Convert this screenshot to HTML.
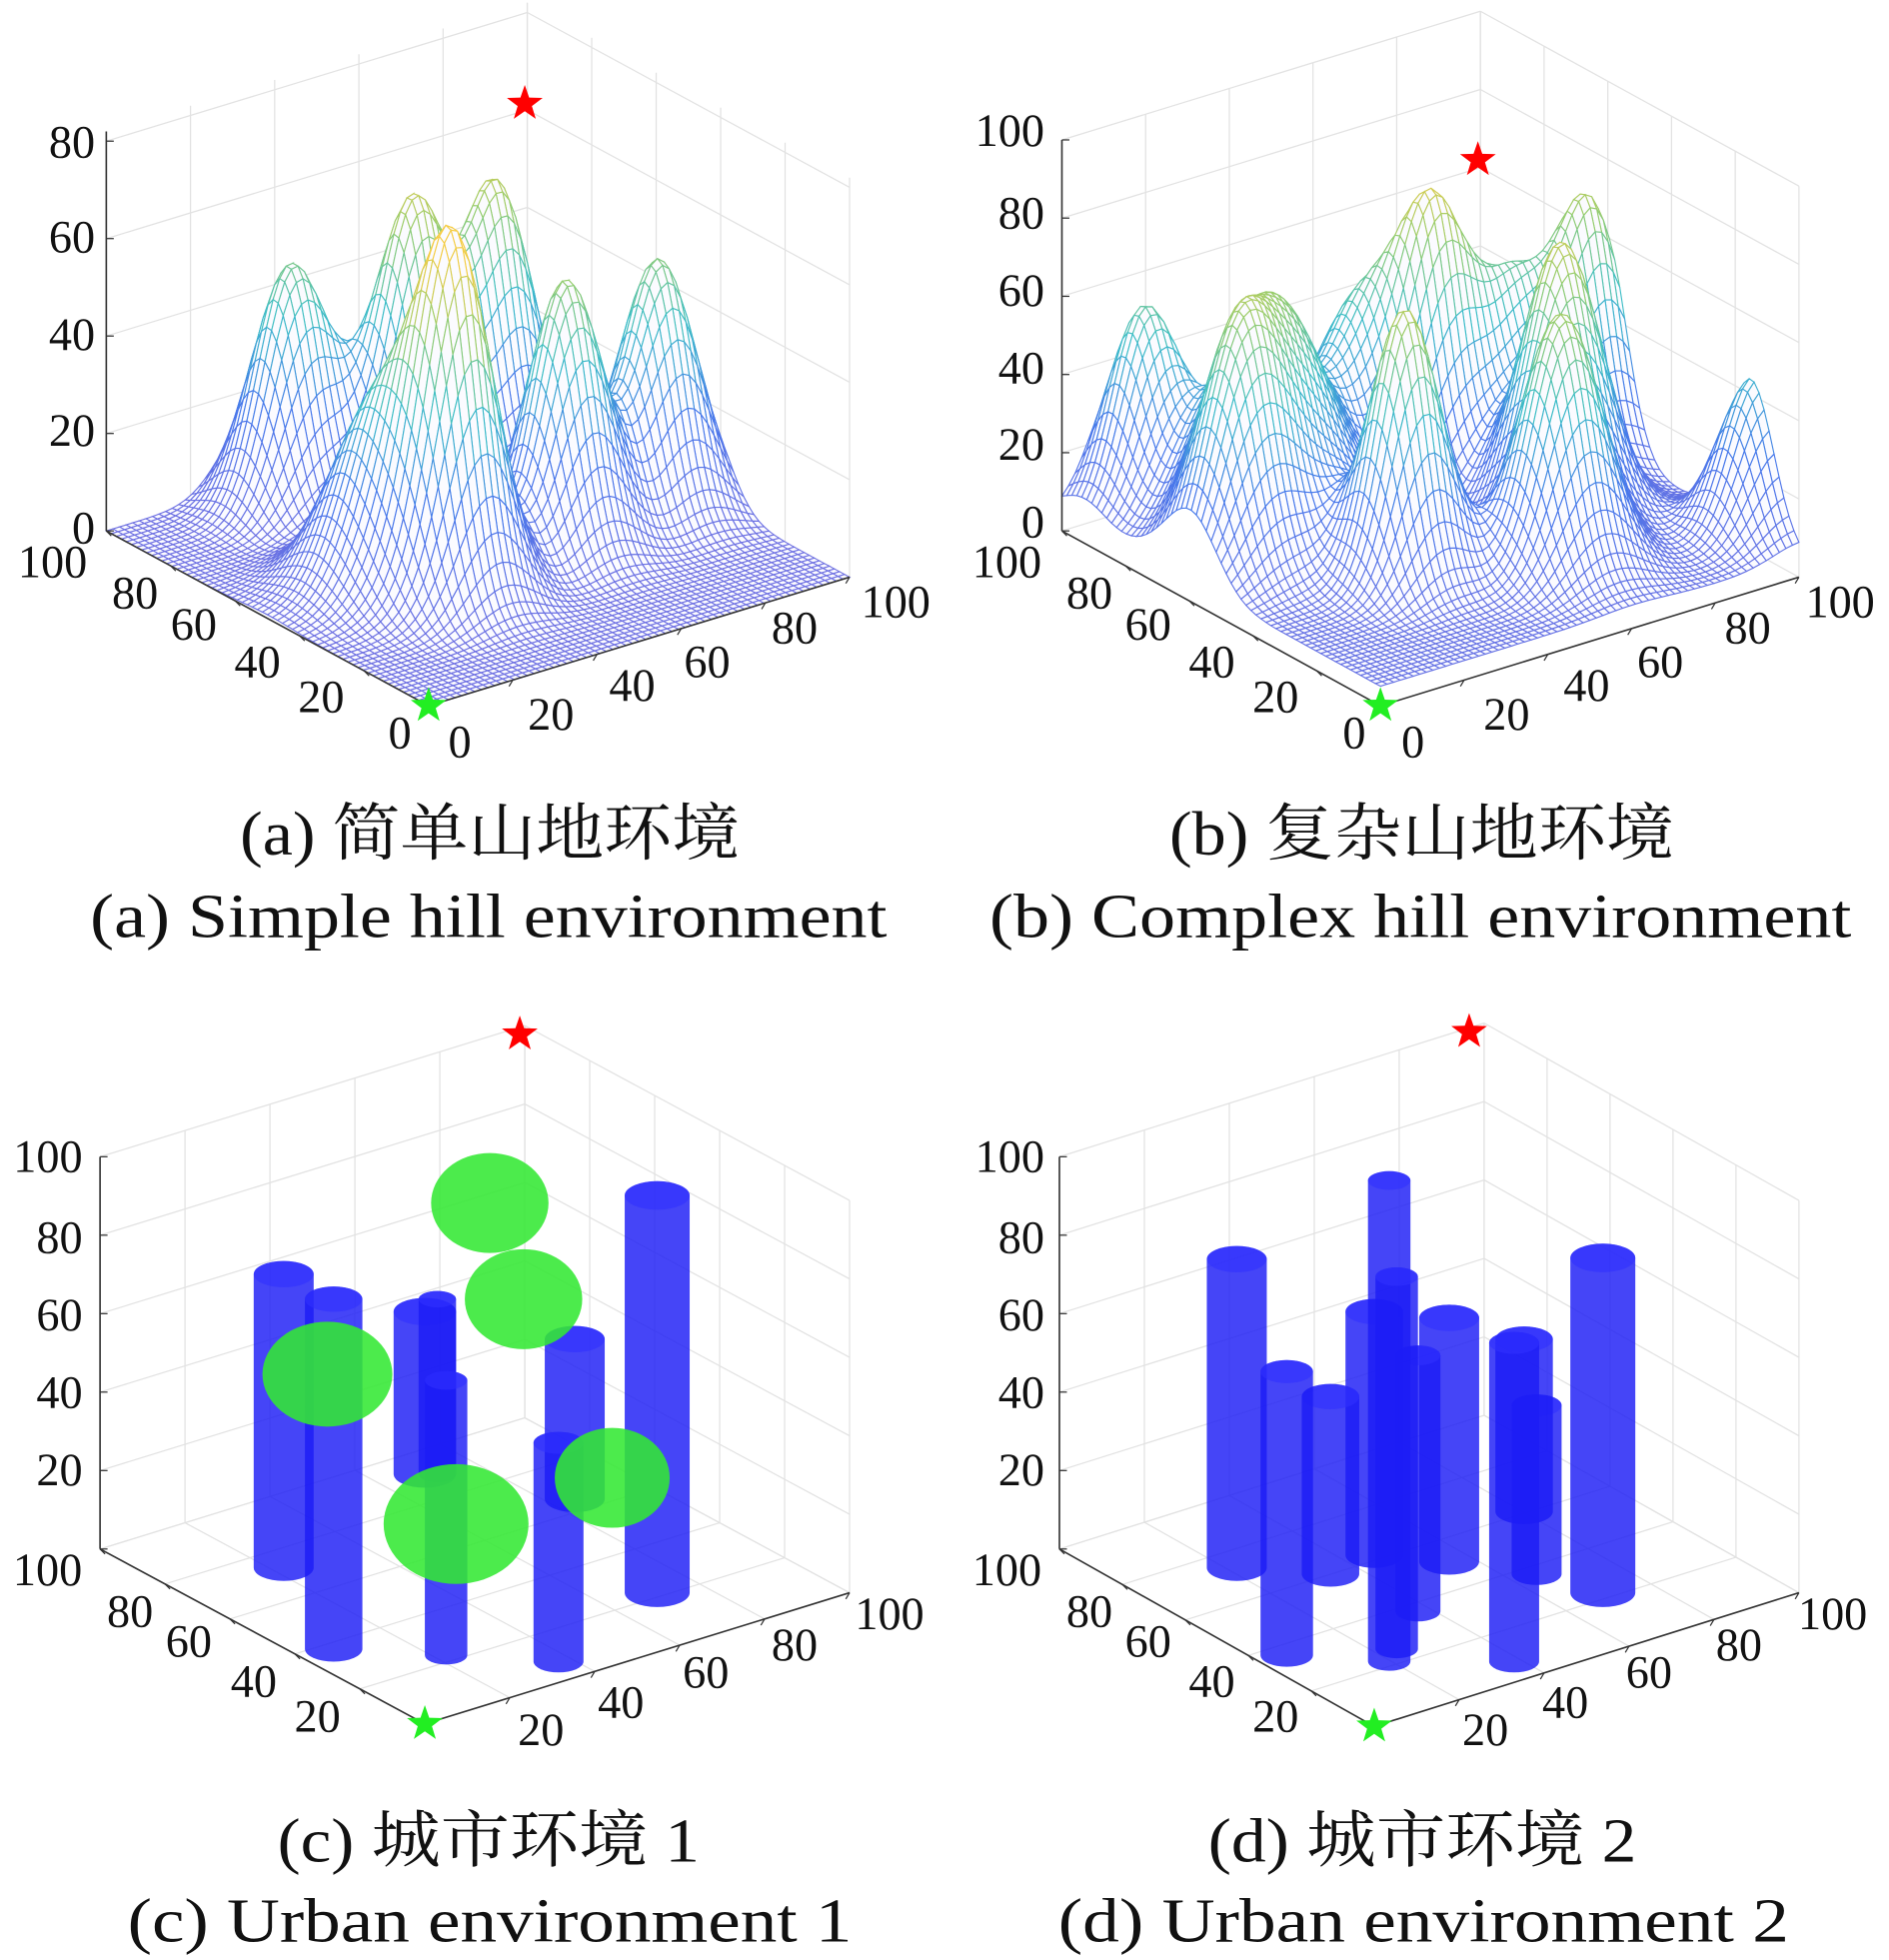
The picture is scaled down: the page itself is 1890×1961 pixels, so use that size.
<!DOCTYPE html>
<html><head><meta charset="utf-8">
<style>
html,body{margin:0;padding:0;background:#fff;}
svg{display:block;}
text{font-family:"Liberation Serif","Noto Serif CJK SC",serif;fill:#111;}
</style></head>
<body>
<svg id="s" width="1890" height="1961" viewBox="0 0 1512 1569" xmlns="http://www.w3.org/2000/svg">
<g id="g"></g>
<g font-size="37">
<g text-anchor="end">
<text x="76" y="126">80</text><text x="76" y="202">60</text><text x="76" y="280">40</text><text x="76" y="357">20</text><text x="76" y="435">0</text>
</g>
<g text-anchor="middle">
<text x="42" y="462">100</text><text x="108" y="487">80</text><text x="155" y="512">60</text><text x="206" y="542">40</text><text x="257" y="570">20</text><text x="320" y="599">0</text>
<text x="368" y="606">0</text><text x="441" y="584">20</text><text x="506" y="561">40</text><text x="566" y="542">60</text><text x="636" y="515">80</text><text x="717" y="494">100</text>
</g>
<g text-anchor="end">
<text x="836" y="117">100</text><text x="836" y="183">80</text><text x="836" y="245">60</text><text x="836" y="307">40</text><text x="836" y="368">20</text><text x="836" y="430">0</text>
</g>
<g text-anchor="middle">
<text x="806" y="462">100</text><text x="872" y="487">80</text><text x="919" y="512">60</text><text x="970" y="542">40</text><text x="1021" y="570">20</text><text x="1084" y="599">0</text>
<text x="1131" y="606">0</text><text x="1206" y="584">20</text><text x="1270" y="561">40</text><text x="1329" y="542">60</text><text x="1399" y="515">80</text><text x="1473" y="494">100</text>
</g>
<g text-anchor="end">
<text x="66" y="938">100</text><text x="66" y="1003">80</text><text x="66" y="1065">60</text><text x="66" y="1127">40</text><text x="66" y="1189">20</text>
</g>
<g text-anchor="middle">
<text x="38" y="1269">100</text><text x="104" y="1302">80</text><text x="151" y="1326">60</text><text x="203" y="1358">40</text><text x="254" y="1386">20</text>
<text x="433" y="1397">20</text><text x="497" y="1375">40</text><text x="565" y="1351">60</text><text x="636" y="1329">80</text><text x="712" y="1304">100</text>
</g>
<g text-anchor="end">
<text x="836" y="938">100</text><text x="836" y="1003">80</text><text x="836" y="1065">60</text><text x="836" y="1127">40</text><text x="836" y="1189">20</text>
</g>
<g text-anchor="middle">
<text x="806" y="1269">100</text><text x="872" y="1302">80</text><text x="919" y="1326">60</text><text x="970" y="1358">40</text><text x="1021" y="1386">20</text>
<text x="1189" y="1397">20</text><text x="1253" y="1375">40</text><text x="1320" y="1351">60</text><text x="1392" y="1329">80</text><text x="1467" y="1304">100</text>
</g>
</g>
<g font-size="50">
<text x="192" y="684" textLength="400" lengthAdjust="spacingAndGlyphs">(a) 简单山地环境</text>
<text x="72" y="750" textLength="638" lengthAdjust="spacingAndGlyphs">(a) Simple hill environment</text>
<text x="936" y="684" textLength="404" lengthAdjust="spacingAndGlyphs">(b) 复杂山地环境</text>
<text x="792" y="750" textLength="690" lengthAdjust="spacingAndGlyphs">(b) Complex hill environment</text>
<text x="222" y="1490" textLength="338" lengthAdjust="spacingAndGlyphs">(c) 城市环境 1</text>
<text x="102" y="1554" textLength="580" lengthAdjust="spacingAndGlyphs">(c) Urban environment 1</text>
<text x="967" y="1490" textLength="343" lengthAdjust="spacingAndGlyphs">(d) 城市环境 2</text>
<text x="847" y="1554" textLength="585" lengthAdjust="spacingAndGlyphs">(d) Urban environment 2</text>
</g>
</svg>
<script>
var NS="http://www.w3.org/2000/svg",G=document.getElementById("g");
function el(t,a){var e=document.createElementNS(NS,t);for(var k in a)e.setAttribute(k,a[k]);G.appendChild(e);return e;}
function mk(F,L,R,zpx,zmax){
 var u=[(R[0]-F[0])/100,(R[1]-F[1])/100],v=[(L[0]-F[0])/100,(L[1]-F[1])/100];
 return {F:F,L:L,R:R,zpx:zpx,zmax:zmax,
  p:function(x,y,z){return [F[0]+u[0]*x+v[0]*y,F[1]+u[1]*x+v[1]*y-z*zpx];},
  inv:function(sx,sy){var dx=sx-F[0],dy=sy-F[1],d=u[0]*v[1]-u[1]*v[0];return [(dx*v[1]-dy*v[0])/d,(u[0]*dy-u[1]*dx)/d];}};
}
function ln(a,b,c,w){el("line",{x1:a[0],y1:a[1],x2:b[0],y2:b[1],stroke:c,"stroke-width":w||1});}
function box(P,floor){
 var g="#e2e2e2";
 for(var z=0;z<=P.zmax+0.1;z+=20){ln(P.p(0,100,z),P.p(100,100,z),g);ln(P.p(100,100,z),P.p(100,0,z),g);}
 for(var t=0;t<=100;t+=20){
  ln(P.p(t,100,0),P.p(t,100,P.zmax),g);ln(P.p(100,t,0),P.p(100,t,P.zmax),g);
  if(floor){ln(P.p(t,0,0),P.p(t,100,0),g);ln(P.p(0,t,0),P.p(100,t,0),g);}
 }
}
function axes(P){
 var k="#333";
 ln(P.p(0,100,0),P.p(0,100,P.zmax),k,1.3);
 ln(P.p(0,100,0),P.p(0,0,0),k,1.3);ln(P.p(0,0,0),P.p(100,0,0),k,1.3);
 for(var t=0;t<=100;t+=20){var a=P.p(t,0,0);ln(a,[a[0]-3,a[1]+5],k);var b=P.p(0,t,0);ln(b,[b[0]+4,b[1]+4],k);}
 for(var z=0;z<=P.zmax+0.1;z+=20){var c=P.p(0,100,z);ln(c,[c[0]+6,c[1]],k);}
}
function star(c,col){var s="";for(var i=0;i<10;i++){var r=i%2?6:15,a=-Math.PI/2+i*Math.PI/5;s+=(c[0]+r*Math.cos(a)).toFixed(1)+","+(c[1]+r*Math.sin(a)).toFixed(1)+" ";}el("polygon",{points:s,fill:col});}
var stops=[[0,[110,112,226]],[0.3,[70,120,235]],[0.55,[60,190,200]],[0.78,[150,205,110]],[1,[245,205,70]]];
function cmap(t){t=Math.max(0,Math.min(1,t));for(var i=1;i<stops.length;i++)if(t<=stops[i][0]){var a=stops[i-1],b=stops[i],f=(t-a[0])/(b[0]-a[0]);return "rgb("+[0,1,2].map(function(j){return Math.round(a[1][j]+(b[1][j]-a[1][j])*f)}).join(",")+")";}return "rgb(245,205,70)";}
function surf(P,peaks,base,maxz){
 var N=64,h=100/N;
 function Z(x,y){var z=base;for(var i=0;i<peaks.length;i++){var q=peaks[i],dx=x-q[0],dy=y-q[1];z+=q[2]*Math.exp(-(dx*dx/(2*q[3]*q[3])+dy*dy/(2*q[4]*q[4])));}return z;}
 var grid=[];for(var i=0;i<=N;i++){grid[i]=[];for(var j=0;j<=N;j++)grid[i][j]=Z(i*h,j*h);}
 for(var s=2*N-2;s>=0;s--){for(var i=Math.min(N-1,s);i>=0&&s-i<N;i--){var j=s-i;
   var z1=grid[i][j],z2=grid[i+1][j],z3=grid[i+1][j+1],z4=grid[i][j+1];
   var a=P.p(i*h,j*h,z1),b=P.p((i+1)*h,j*h,z2),c=P.p((i+1)*h,(j+1)*h,z3),d=P.p(i*h,(j+1)*h,z4);
   el("polygon",{points:[a,b,c,d].map(function(q){return q[0].toFixed(1)+","+q[1].toFixed(1)}).join(" "),fill:"#fbfbff",stroke:cmap((z1+z3)/2/maxz),"stroke-width":0.9});
 }}
}
function peaksFromScreen(P,list,sig,sc){sc=sc||1;return list.map(function(q){var xy=P.inv(q[0],q[2]);return [xy[0],xy[1],sc*(q[2]-q[1])/P.zpx,q[3]||sig,q[4]||q[3]||sig];});}
var A=mk([343,565],[85,425],[680,462],3.9,82);
box(A,false);
surf(A,peaksFromScreen(A,[[233,213,405],[330,165,400],[397,150,380],[365,212,480],[453,225,440],[527,208,410],[300,330,470,9]],7.5),0,70);
axes(A);
star([420,83],"#f00");star(A.p(0,0,0),"#2e2");
var B=mk([1105,565],[850,425],[1440,462],3.13,100);
box(B,false);
surf(B,peaksFromScreen(B,[[915,235,420,7],[1020,222,440,11],[993,285,470,8],[1148,157,400,7],[1125,218,480,7],[1210,228,390,7],[1250,165,430,8],[1272,138,380,7],[1250,228,470,8],[1405,290,440,7],[1085,245,400,8]],8,0.82),5,85);
axes(B);
star([1183,128],"#f00");star(B.p(0,0,0),"#2e2");
var C=mk([340,1380],[80,1240],[680,1275],3.14,100);
box(C,true);axes(C);
function cyl(cx,t,b,w){var rx=w/2,ry=w*0.22;
 el("path",{d:"M"+(cx-rx)+","+t+" L"+(cx-rx)+","+b+" A"+rx+","+ry+" 0 0 0 "+(cx+rx)+","+b+" L"+(cx+rx)+","+t+" A"+rx+","+ry+" 0 0 0 "+(cx-rx)+","+t+"Z",fill:"#1c1cf5","fill-opacity":0.82});
 el("ellipse",{cx:cx,cy:t,rx:rx,ry:ry,fill:"#3030ff","fill-opacity":0.6});}
function ball(cx,cy,rx,ry){el("ellipse",{cx:cx,cy:cy,rx:rx,ry:ry,fill:"#33e833","fill-opacity":0.88});}
[[340,1050,1180,50],[350,1040,1180,30],[460,1072,1200,48],[227,1020,1255,48],[526,957,1275,52],[267,1040,1320,46],[357,1105,1325,34],[447,1155,1330,40]].forEach(function(c){cyl(c[0],c[1],c[2],c[3]);});
[[392,963,47,40],[419,1040,47,40],[262,1100,52,42],[490,1183,46,40],[365,1220,58,48]].forEach(function(c){ball(c[0],c[1],c[2],c[3]);});
star([416,828],"#f00");star(C.p(0,0,0),"#2e2");
var D=mk([1100,1382],[848,1240],[1440,1275],3.14,100);
box(D,true);axes(D);
[[1230,1125,1260,40],[1160,1055,1250,48],[1100,1050,1245,46],[1220,1072,1210,46],[1065,1118,1260,46],[990,1008,1255,48],[1283,1007,1275,52],[1135,1085,1290,36],[1112,945,1330,34],[1118,1022,1320,34],[1030,1098,1325,42],[1212,1075,1330,40]].forEach(function(c){cyl(c[0],c[1],c[2],c[3]);});
star([1176,826],"#f00");star(D.p(0,0,0),"#2e2");
</script>
</body></html>
